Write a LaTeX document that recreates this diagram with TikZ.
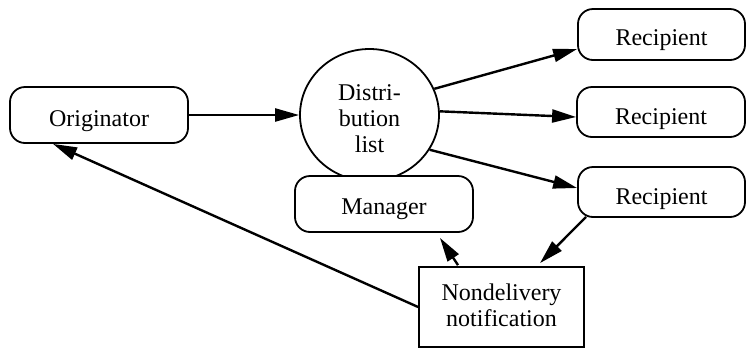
\documentclass[tikz,border=0pt]{standalone}
\usepackage{fontspec}
\setmainfont{Liberation Serif}
\usetikzlibrary{arrows.meta,shapes.geometric}
% text block whose first baseline sits #1 above the node centre
\newcommand\boxtext[2]{\raisebox{#1}[0pt][0pt]{\begin{tabular}[t]{@{}c@{}}#2\end{tabular}}}
\begin{document}
\begin{tikzpicture}[x=0.5pt,y=-0.5pt,
  font=\fontsize{12}{13}\selectfont,
  rbox/.style={draw,line width=0.9pt,rounded corners=7.5pt,fill=white,inner sep=0pt},
  sbox/.style={draw,line width=0.9pt,fill=white,inner sep=0pt},
  listnode/.style={ellipse,draw,line width=0.9pt,fill=white,inner sep=0pt},
  conn/.style={line width=1.2pt,-{Triangle[length=12pt,width=6.5pt]}}]
\useasboundingbox (0,0) rectangle (746,349);

% boxes
\node[rbox,minimum width=89pt,minimum height=28pt] (orig) at (99,115) {\boxtext{-5.9pt}{Originator}};
\node[listnode,minimum width=69.5pt,minimum height=66pt] (dist) at (369.5,115) {\boxtext{7.1pt}{Distri-\\bution\\list}};
\node[rbox,minimum width=89pt,minimum height=28pt] (mgr) at (384,204) {\boxtext{-5.3pt}{Manager}};
\node[rbox,minimum width=83.5pt,minimum height=25.5pt] (r1) at (661.5,34.5) {\boxtext{-5.3pt}{Recipient}};
\node[rbox,minimum width=84pt,minimum height=25pt] (r2) at (661,112) {\boxtext{-6.4pt}{Recipient}};
\node[rbox,minimum width=83.5pt,minimum height=25pt] (r3) at (661.5,192) {\boxtext{-6pt}{Recipient}};
\node[sbox,minimum width=82.5pt,minimum height=40pt] (nd) at (501.5,307) {\boxtext{3.1pt}{Nondelivery\\notification}};

% connectors
\draw[conn] (orig.east) -- (dist.west);
\draw[conn] (dist.22) -- ([yshift=-7.25pt]r1.west);
\draw[conn] (dist.3) -- ([yshift=-2.5pt]r2.west);
\draw[conn] (dist.-30) -- ([yshift=2pt]r3.west);
\draw[conn] ([xshift=4.5pt,yshift=0.5pt]r3.south west) -- ([xshift=19.25pt,yshift=1.5pt]nd.north);
\draw[conn] ([xshift=-21.75pt,yshift=0.5pt]nd.north) -- ([xshift=28pt,yshift=-2.5pt]mgr.south);
\draw[conn] (nd.west) -- ([xshift=-23pt]orig.south);
\end{tikzpicture}
\end{document}
